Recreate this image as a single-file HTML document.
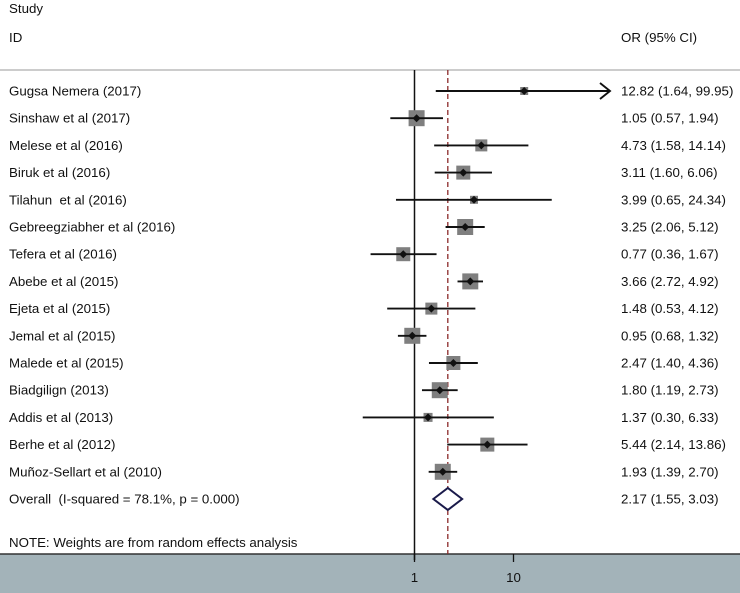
<!DOCTYPE html>
<html><head><meta charset="utf-8"><style>
body{margin:0;background:#fff;font-family:"Liberation Sans",sans-serif;}
svg{display:block}
text{font-size:13.3px;fill:#111;font-family:"Liberation Sans",sans-serif;white-space:pre}
</style></head><body>
<svg id="chart" width="740" height="593">
<rect x="0" y="554" width="740" height="39" fill="#a3b3b9"/>
<line x1="0" y1="554" x2="740" y2="554" stroke="#333" stroke-width="1.5"/>
<line x1="0" y1="70" x2="740" y2="70" stroke="#999" stroke-width="1"/>
<text x="9" y="13">Study</text>
<text x="9" y="42">ID</text>
<text x="621" y="42">OR (95% CI)</text>
<text x="9" y="547">NOTE: Weights are from random effects analysis</text>
<g id="plot"></g>
</svg>
<script>
const studies=["Gugsa Nemera (2017)","Sinshaw et al (2017)","Melese et al (2016)","Biruk et al (2016)","Tilahun  et al (2016)","Gebreegziabher et al (2016)","Tefera et al (2016)","Abebe et al (2015)","Ejeta et al (2015)","Jemal et al (2015)","Malede et al (2015)","Biadgilign (2013)","Addis et al (2013)","Berhe et al (2012)","Muñoz-Sellart et al (2010)"];
const orVals=[12.82,1.05,4.73,3.11,3.99,3.25,0.77,3.66,1.48,0.95,2.47,1.80,1.37,5.44,1.93];
const lowVals=[1.64,0.57,1.58,1.60,0.65,2.06,0.36,2.72,0.53,0.68,1.40,1.19,0.30,2.14,1.39];
const highVals=[99.95,1.94,14.14,6.06,24.34,5.12,1.67,4.92,4.12,1.32,4.36,2.73,6.33,13.86,2.70];
const weights=[4,8,6,7,4,8,7,8,6,8,7,8,4.5,7,8];
const overall=[2.17,1.55,3.03];
const ticks=[1,10];
const NS="http://www.w3.org/2000/svg";
const g=document.getElementById('plot');
const xs=v=>414.5+99*Math.log10(v);
const ys=i=>91+i*27.2;
function el(t,a){const e=document.createElementNS(NS,t);for(const k in a)e.setAttribute(k,a[k]);g.appendChild(e);return e;}
const f=v=>v.toFixed(2);
let ax=el('line',{x1:xs(1),y1:70,x2:xs(1),y2:560,stroke:'#111','stroke-width':1.5});

let dl=el('line',{x1:xs(overall[0]),y1:70,x2:xs(overall[0]),y2:554,stroke:'#8b2a2a','stroke-width':1.3,'stroke-dasharray':'5,3'});

ticks.forEach(t=>{
 let l=el('line',{x1:xs(t),y1:554,x2:xs(t),y2:562,stroke:'#111','stroke-width':1.3});
 
 let tx=el('text',{x:xs(t),y:582,'text-anchor':'middle'});tx.textContent=t;
 
});
studies.forEach((s,i)=>{
 const y=ys(i);
 let lb=el('text',{x:9,y:y+4.5});lb.textContent=s;
 
 const w=weights[i];
 let b=el('rect',{x:xs(orVals[i])-w,y:y-w,width:2*w,height:2*w,fill:'#7f7f7f'});
 
 const hi=Math.min(xs(highVals[i]),610);
 let ci=el('line',{x1:xs(lowVals[i]),y1:y,x2:hi,y2:y,stroke:'#111','stroke-width':1.9});
 
 if(xs(highVals[i])>=610){let a=el('path',{d:`M${hi-10},${y-8} L${hi},${y} L${hi-10},${y+8}`,fill:'none',stroke:'#111','stroke-width':1.9});
  }
 let p=el('path',{d:`M${xs(orVals[i])-4},${y} L${xs(orVals[i])},${y-4} L${xs(orVals[i])+4},${y} L${xs(orVals[i])},${y+4}Z`,fill:'#111'});
 
 let v=el('text',{x:621,y:y+4.5});v.textContent=`${f(orVals[i])} (${f(lowVals[i])}, ${f(highVals[i])})`;
 
});
const oy=ys(15);
let ol=el('text',{x:9,y:oy+4.5});ol.textContent='Overall  (I-squared = 78.1%, p = 0.000)';

let dm=el('path',{d:`M${xs(overall[1])},${oy} L${xs(overall[0])},${oy-11} L${xs(overall[2])},${oy} L${xs(overall[0])},${oy+11}Z`,fill:'#fff',stroke:'#1a1a4a','stroke-width':2});

let ov=el('text',{x:621,y:oy+4.5});ov.textContent=`${f(overall[0])} (${f(overall[1])}, ${f(overall[2])})`;

</script>
</body></html>
